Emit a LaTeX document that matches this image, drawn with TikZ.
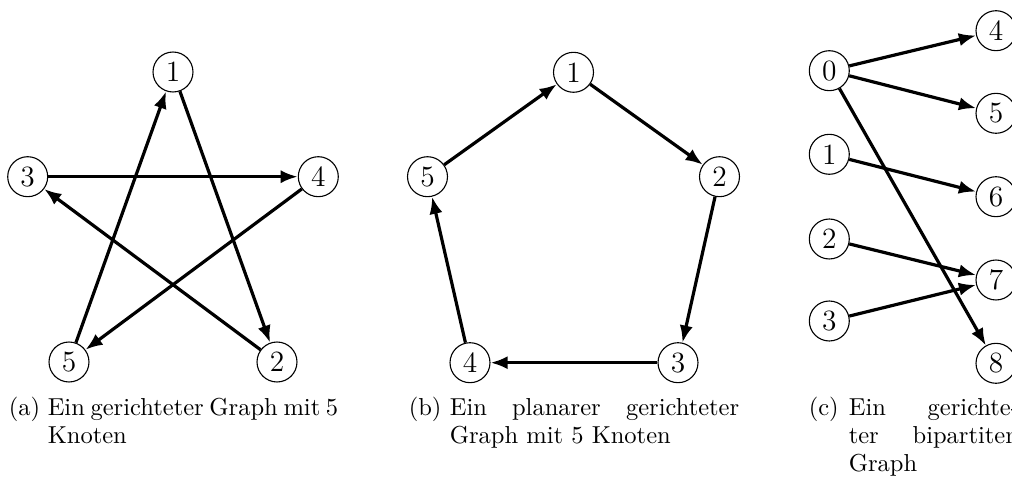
\documentclass[tikz,border=0pt]{standalone}
\usetikzlibrary{arrows.meta}
\newcommand{\capln}[2]{\hbox to #1{#2}}
\begin{document}
\begin{tikzpicture}[x=0.4077pt,y=-0.4077pt,
  vtx/.style={circle, draw, line width=0.45pt, minimum size=16.3pt, inner sep=0pt, font=\fontsize{12}{14}\selectfont},
  edge/.style={line width=1.3pt, -{Latex[length=7pt,width=5.4pt]}},
  caplab/.style={anchor=base west, inner sep=0pt, font=\fontsize{10}{11.5}\selectfont},
  captxt/.style={anchor=base west, inner sep=0pt, font=\fontsize{10}{11.5}\selectfont}]
\useasboundingbox (0,0) rectangle (1012,478);
% (a)
\node[vtx] (a1) at (173,72) {1};
\node[vtx] (a3) at (27.7,176.7) {3};
\node[vtx] (a4) at (318.3,176.7) {4};
\node[vtx] (a5) at (69,362) {5};
\node[vtx] (a2) at (277,362) {2};
\draw[edge] (a3) -- (a4);
\draw[edge] (a4) -- (a5);
\draw[edge] (a5) -- (a1);
\draw[edge] (a1) -- (a2);
\draw[edge] (a2) -- (a3);
% (b)
\node[vtx] (b1) at (573.5,72.3) {1};
\node[vtx] (b5) at (427.5,176.7) {5};
\node[vtx] (b2) at (719.5,176.7) {2};
\node[vtx] (b4) at (470,362.7) {4};
\node[vtx] (b3) at (678,362.7) {3};
\draw[edge] (b5) -- (b1);
\draw[edge] (b1) -- (b2);
\draw[edge] (b2) -- (b3);
\draw[edge] (b3) -- (b4);
\draw[edge] (b4) -- (b5);
% (c)
\node[vtx] (c0) at (829.3,70.7) {0};
\node[vtx] (c1) at (829.3,154.3) {1};
\node[vtx] (c2) at (829.3,239) {2};
\node[vtx] (c3) at (829.3,321) {3};
\node[vtx] (c4) at (996,30.7) {4};
\node[vtx] (c5) at (996,113.3) {5};
\node[vtx] (c6) at (996,196.7) {6};
\node[vtx] (c7) at (996,280) {7};
\node[vtx] (c8) at (996,363.3) {8};
\draw[edge] (c0) -- (c4);
\draw[edge] (c0) -- (c5);
\draw[edge] (c0) -- (c8);
\draw[edge] (c1) -- (c6);
\draw[edge] (c2) -- (c7);
\draw[edge] (c3) -- (c7);
% captions
\node[caplab] (la) at (8.3,415) {(a)};
\node[captxt] (ta) at (47.3,415) {\parbox[t]{118.4pt}{\capln{118.4pt}{Ein gerichteter Graph mit 5}\hbox{Knoten}}};
\node[caplab] (lb) at (408.3,415) {(b)};
\node[captxt] (tb) at (449.3,415) {\parbox[t]{118pt}{\capln{118pt}{Ein planarer gerichteter}\hbox{Graph mit 5 Knoten}}};
\node[caplab] (lc) at (808.3,415) {(c)};
\node[captxt] (tc) at (848.3,415) {\parbox[t]{69.4pt}{\capln{69.4pt}{Ein gerichte-}\capln{69.4pt}{ter bipartiten}\hbox{Graph}}};
\end{tikzpicture}
\end{document}
